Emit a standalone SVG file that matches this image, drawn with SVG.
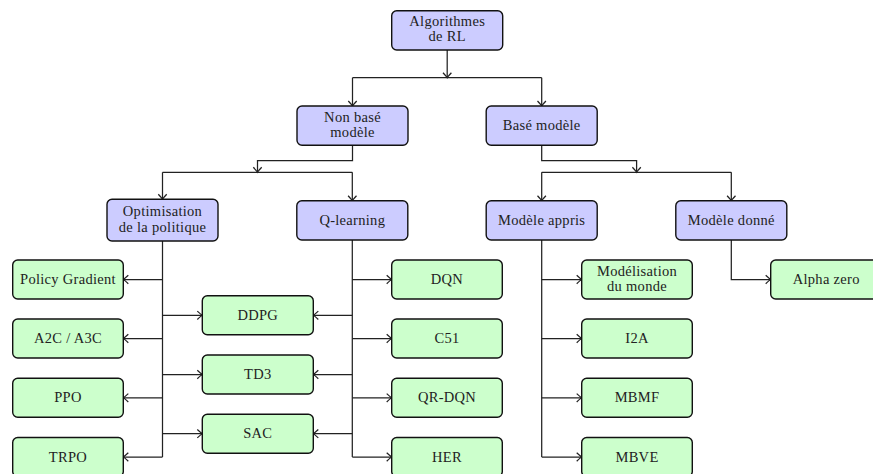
<svg xmlns="http://www.w3.org/2000/svg" width="873" height="474" viewBox="0 0 873 474">
<style>
.b{fill:#ccccff;stroke:#111;stroke-width:1.4}
.g{fill:#ccffcc;stroke:#111;stroke-width:1.4}
text{font-family:"Liberation Serif","DejaVu Serif",serif;font-size:14.5px;letter-spacing:0.3px;fill:#222;text-anchor:middle}
.c path{fill:none;stroke:#222;stroke-width:1.25}
.a{marker-end:url(#arr)}
</style>
<defs>
<marker id="arr" markerUnits="userSpaceOnUse" markerWidth="9" markerHeight="11" viewBox="-7 -5.5 8 11" refX="0" refY="0" orient="auto">
<path d="M-5,-4.2 Q-1.3,-0.7 0,0 Q-1.3,0.7 -5,4.2" fill="none" stroke="#222" stroke-width="1.25"/>
</marker>
</defs>
<rect width="873" height="474" fill="#fff"/>
<g class="c" id="connectors">
<path class="a" d="M447.2,50 V77.7"/>
<path d="M352.5,77.7 H541.7"/>
<path class="a" d="M352.5,77.7 V106"/>
<path class="a" d="M541.7,77.7 V106"/>
<path class="a" d="M352.5,145.3 V160.7 H257.5 V172.3"/>
<path d="M162.5,172.3 H352.3"/>
<path class="a" d="M162.5,172.3 V199.3"/>
<path class="a" d="M352.3,172.3 V200.7"/>
<path class="a" d="M541.7,145.3 V160.7 H636.6 V172.3"/>
<path d="M541.7,172.3 H731.3"/>
<path class="a" d="M541.7,172.3 V200.7"/>
<path class="a" d="M731.3,172.3 V200.7"/>
<path d="M162.5,241 V457"/>
<path class="a" d="M162.5,279.5 H123.3"/>
<path class="a" d="M162.5,338.5 H123.3"/>
<path class="a" d="M162.5,397.8 H123.3"/>
<path class="a" d="M162.5,457 H123.3"/>
<path class="a" d="M162.5,315.3 H202.3"/>
<path class="a" d="M162.5,374.5 H202.3"/>
<path class="a" d="M162.5,433.7 H202.3"/>
<path d="M352.3,240 V457"/>
<path class="a" d="M352.3,315.3 H313.3"/>
<path class="a" d="M352.3,374.5 H313.3"/>
<path class="a" d="M352.3,433.7 H313.3"/>
<path class="a" d="M352.3,279.5 H391.7"/>
<path class="a" d="M352.3,338.5 H391.7"/>
<path class="a" d="M352.3,397.8 H391.7"/>
<path class="a" d="M352.3,457 H391.7"/>
<path d="M541.7,240 V457"/>
<path class="a" d="M541.7,279.5 H581.7"/>
<path class="a" d="M541.7,338.5 H581.7"/>
<path class="a" d="M541.7,397.8 H581.7"/>
<path class="a" d="M541.7,457 H581.7"/>
<path class="a" d="M731.3,240 V279.5 H770.7"/>
</g>
<g id="root"><rect class="b" x="391.7" y="10.7" width="111" height="39.3" rx="5"/><text x="447.2" y="26.3">Algorithmes</text><text x="447.2" y="41.3">de RL</text></g>
<g id="nonbase"><rect class="b" x="297" y="106" width="111" height="39.3" rx="5"/><text x="352.5" y="121.7">Non basé</text><text x="352.5" y="136.7">modèle</text></g>
<g id="base"><rect class="b" x="486.2" y="106" width="111" height="39.3" rx="5"/><text x="541.7" y="130.2">Basé modèle</text></g>
<g id="optim"><rect class="b" x="107" y="199.3" width="111" height="41.7" rx="5"/><text x="162.5" y="216">Optimisation</text><text x="162.5" y="231.5">de la politique</text></g>
<g id="qlearning"><rect class="b" x="296.8" y="200.7" width="111" height="39.3" rx="5"/><text x="352.3" y="224.9">Q-learning</text></g>
<g id="appris"><rect class="b" x="486.2" y="200.7" width="111" height="39.3" rx="5"/><text x="541.7" y="224.9">Modèle appris</text></g>
<g id="donne"><rect class="b" x="675.8" y="200.7" width="111" height="39.3" rx="5"/><text x="731.3" y="224.9">Modèle donné</text></g>
<g id="pg"><rect class="g" x="12.7" y="260" width="110.6" height="39" rx="5"/><text x="68" y="284">Policy Gradient</text></g>
<g id="a2c"><rect class="g" x="12.7" y="319" width="110.6" height="39" rx="5"/><text x="68" y="343">A2C / A3C</text></g>
<g id="ppo"><rect class="g" x="12.7" y="378.3" width="110.6" height="39" rx="5"/><text x="68" y="402.3">PPO</text></g>
<g id="trpo"><rect class="g" x="12.7" y="437.5" width="110.6" height="39" rx="5"/><text x="68" y="461.5">TRPO</text></g>
<g id="ddpg"><rect class="g" x="202.3" y="295.8" width="111" height="39" rx="5"/><text x="257.8" y="319.8">DDPG</text></g>
<g id="td3"><rect class="g" x="202.3" y="355" width="111" height="39" rx="5"/><text x="257.8" y="379">TD3</text></g>
<g id="sac"><rect class="g" x="202.3" y="414.2" width="111" height="39" rx="5"/><text x="257.8" y="438.2">SAC</text></g>
<g id="dqn"><rect class="g" x="391.7" y="260" width="110.6" height="39" rx="5"/><text x="447" y="284">DQN</text></g>
<g id="c51"><rect class="g" x="391.7" y="319" width="110.6" height="39" rx="5"/><text x="447" y="343">C51</text></g>
<g id="qrdqn"><rect class="g" x="391.7" y="378.3" width="110.6" height="39" rx="5"/><text x="447" y="402.3">QR-DQN</text></g>
<g id="her"><rect class="g" x="391.7" y="437.5" width="110.6" height="39" rx="5"/><text x="447" y="461.5">HER</text></g>
<g id="monde"><rect class="g" x="581.7" y="260" width="110.6" height="39" rx="5"/><text x="637" y="275.5">Modélisation</text><text x="637" y="290.5">du monde</text></g>
<g id="i2a"><rect class="g" x="581.7" y="319" width="110.6" height="39" rx="5"/><text x="637" y="343">I2A</text></g>
<g id="mbmf"><rect class="g" x="581.7" y="378.3" width="110.6" height="39" rx="5"/><text x="637" y="402.3">MBMF</text></g>
<g id="mbve"><rect class="g" x="581.7" y="437.5" width="110.6" height="39" rx="5"/><text x="637" y="461.5">MBVE</text></g>
<g id="alphazero"><rect class="g" x="770.7" y="260" width="111" height="39" rx="5"/><text x="826.2" y="284">Alpha zero</text></g>
</svg>
